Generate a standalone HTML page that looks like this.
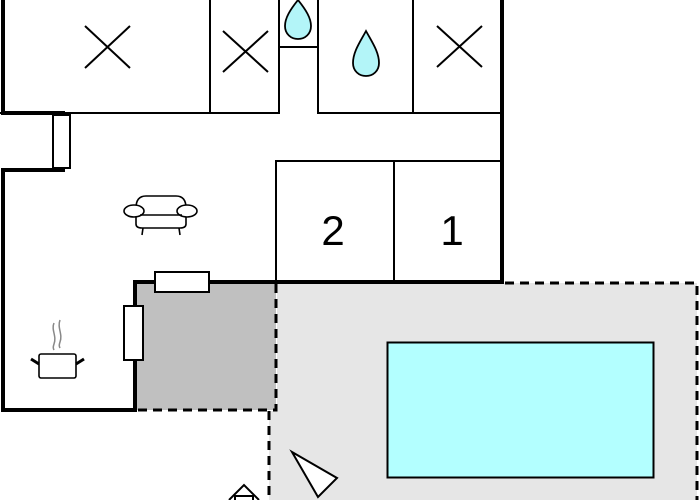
<!DOCTYPE html>
<html><head><meta charset="utf-8"><style>html,body{margin:0;padding:0;background:#fff}svg{display:block}</style></head>
<body>
<svg width="700" height="500" viewBox="0 0 700 500" xmlns="http://www.w3.org/2000/svg">
<!-- terrace -->
<path d="M277 283 H697 V500 H269 V411 H277 Z" fill="#e6e6e6"/>
<rect x="137" y="283" width="139" height="127" fill="#c0c0c0"/>
<!-- dashed lines -->
<g stroke="#000" stroke-width="3" stroke-dasharray="9,6" fill="none">
<path d="M276 284 V410 H137"/>
<path d="M269 411 V500"/>
<path d="M505 283 H697 V500"/>
</g>
<!-- pool -->
<rect x="387.5" y="342.5" width="266" height="135" fill="#b3ffff" stroke="#000" stroke-width="2"/>
<!-- thin walls -->
<g stroke="#000" stroke-width="2" fill="none">
<path d="M0 113 H280"/>
<path d="M210 0 V113"/>
<path d="M279 0 V113"/>
<path d="M279 47 H318"/>
<path d="M318 0 V113 H502"/>
<path d="M413 0 V113"/>
<path d="M276 282 V161 H502"/>
<path d="M394 161 V282"/>
</g>
<!-- thick walls -->
<g stroke="#000" stroke-width="4" fill="none">
<path d="M3 0 V113 H65"/>
<path d="M65 170 H3 V410 H135 V282 H504"/>
<path d="M502 0 V284"/>
</g>
<!-- windows -->
<rect x="53" y="115" width="17" height="53" fill="#fff" stroke="#000" stroke-width="2"/>
<rect x="155" y="272" width="54" height="20" fill="#fff" stroke="#000" stroke-width="2"/>
<rect x="124" y="306" width="19" height="54" fill="#fff" stroke="#000" stroke-width="2"/>
<!-- X marks -->
<g stroke="#000" stroke-width="2">
<path d="M85 26 L130 68 M130 26 L85 68"/>
<path d="M223 31 L268 72 M268 31 L223 72"/>
<path d="M437 26 L482 67 M482 26 L437 67"/>
</g>
<!-- drops -->
<g fill="#b3f5f8" stroke="#000" stroke-width="1.8">
<path d="M298 0 C290 10 285 18 285 26 C285 34 291 39 298 39 C305 39 311 34 311 26 C311 18 306 10 298 0 Z"/>
<path d="M366 31 C360 42 353 52 353 63 C353 71 359 76 366 76 C373 76 379 71 379 63 C379 52 372 42 366 31 Z"/>
</g>
<!-- numbers -->
<g font-family="Liberation Sans, sans-serif" font-size="42" text-anchor="middle" fill="#000">
<text x="333" y="245">2</text>
<text x="452" y="245">1</text>
</g>
<!-- sofa -->
<g stroke="#000" stroke-width="1.6" fill="#fff">
<path d="M136 208 Q136 196 146 196 H176 Q186 196 186 208 V224 Q186 228 180 228 H142 Q136 228 136 224 Z"/>
<ellipse cx="134" cy="211" rx="10" ry="6"/>
<ellipse cx="187" cy="211" rx="10" ry="6"/>
<path d="M143 228 L142 235 M179 228 L180 235" fill="none"/>
<path d="M140 215 H182" fill="none"/>
</g>
<!-- pot -->
<g stroke="#000" stroke-width="1.6" fill="#fff">
<rect x="39" y="354" width="37" height="24" rx="2"/>
<path d="M31 359 L39 364 M84 359 L76 364" stroke-width="3"/>
</g>
<g stroke="#888" stroke-width="1.5" fill="none">
<path d="M54 323 C51 330 57 336 54 344 C53 347 53 348 54 350"/>
<path d="M60 320 C57 328 63 334 60 342 C59 345 59 346 60 348"/>
</g>
<!-- triangle -->
<path d="M292 452 L337 478 L318 497 Z" fill="#fff" stroke="#000" stroke-width="2"/>
<!-- small house -->
<g stroke="#000" stroke-width="2" fill="#fff">
<path d="M229 500 L244 485 L259 500"/>
<path d="M235 500 V496 H253 V500"/>
</g>
</svg>
</body></html>
